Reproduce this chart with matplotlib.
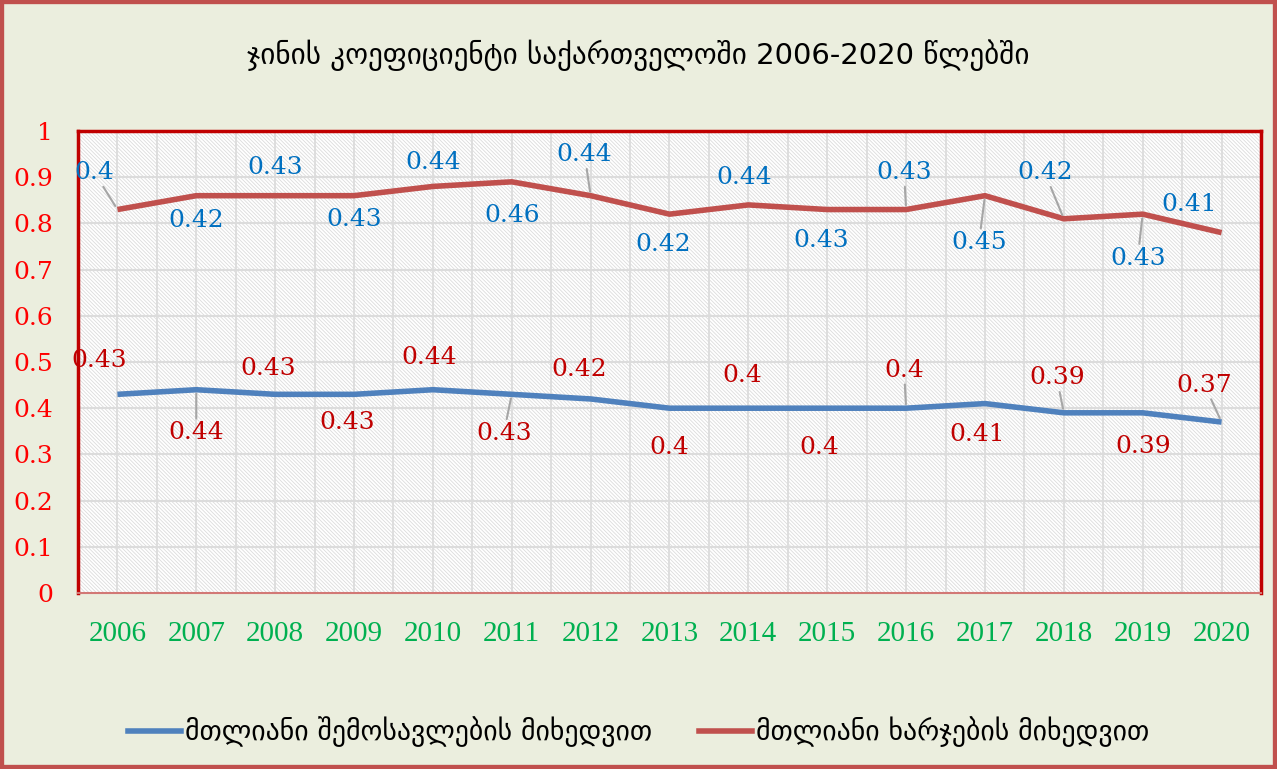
import matplotlib
matplotlib.use('Agg')
import matplotlib.pyplot as plt
from matplotlib.patches import Rectangle
from matplotlib.lines import Line2D
import numpy as np

# ─── Data ─────────────────────────────────────────────
years = ['2006', '2007', '2008', '2009', '2010', '2011', '2012', '2013',
         '2014', '2015', '2016', '2017', '2018', '2019', '2020']
income = [0.43, 0.44, 0.43, 0.43, 0.44, 0.43, 0.42, 0.40,
          0.40, 0.40, 0.40, 0.41, 0.39, 0.39, 0.37]
consumption = [0.40, 0.42, 0.43, 0.43, 0.44, 0.46, 0.44, 0.42,
               0.44, 0.43, 0.43, 0.45, 0.42, 0.43, 0.41]
y_ticks = [0, 0.1, 0.2, 0.3, 0.4, 0.5, 0.6, 0.7, 0.8, 0.9, 1]
y_ticklabels = ['0', '0.1', '0.2', '0.3', '0.4', '0.5', '0.6', '0.7',
                '0.8', '0.9', '1']

title = 'ჯინის კოეფიციენტი საქართველოში 2006-2020 წლებში'
name_income = 'მთლიანი შემოსავლების მიხედვით'
name_cons = 'მთლიანი ხარჯების მიხედვით'

# label offsets in pixels (dx, dy), as placed in the original chart
off_upper = [(-23, 37), (0, -25), (0, 28), (0, -24), (0, 24), (0, -34),
             (-6, 41), (-6, -30), (-4, 27), (-6, -31), (-2, 37), (-6, -47),
             (-19, 46), (-5, -44), (-32, 28)]
off_lower = [(-18, 34), (0, -43), (-7, 26), (-7, -28), (-4, 32), (-8, -39),
             (-11, 29), (0, -39), (-6, 33), (-8, -39), (-2, 38), (-8, -31),
             (-7, 35), (0, -34), (-17, 37)]
# which labels carry a leader line
lead_upper = [1, 0, 0, 0, 0, 0, 1, 0, 0, 0, 1, 1, 1, 1, 0]
lead_lower = [0, 1, 0, 0, 0, 1, 0, 0, 0, 0, 1, 0, 1, 0, 1]

BLUE = '#4F81BD'
RED = '#C0504D'
BG = '#EBEEDE'

x = np.arange(len(years))
upper = np.array(income) + np.array(consumption)

plt.rcParams['hatch.linewidth'] = 0.6

fig = plt.figure(figsize=(12.77, 7.69), dpi=100, facecolor=BG)
ax = fig.add_axes([78 / 1277, 1 - 593 / 769, (1261 - 78) / 1277, (593 - 131) / 769])
ax.set_facecolor('white')
ax.add_patch(Rectangle((0, 0), 1, 1, transform=ax.transAxes, facecolor='white',
                       edgecolor='#DCDCDC', hatch='\\' * 9, lw=0, zorder=0))

ax.set_xlim(-0.5, len(years) - 0.5)
ax.set_ylim(0, 1)

# grid
for yv in y_ticks[1:-1]:
    ax.axhline(yv, color='#DCDCDC', lw=1.5, zorder=1)
for xv in np.arange(-0.5, len(years), 0.5):
    ax.axvline(xv, color='#DCDCDC', lw=1.3, zorder=1)

ax.plot(x, income, color=BLUE, lw=4, solid_capstyle='butt', zorder=3)
ax.plot(x, upper, color=RED, lw=4, solid_capstyle='butt', zorder=3)

lbl_font = dict(family='DejaVu Serif', fontsize=18)
for i in range(len(years)):
    for yv, txt, (dx, dy), lead, col in [
            (upper[i], consumption[i], off_upper[i], lead_upper[i], '#0070C0'),
            (income[i], income[i], off_lower[i], lead_lower[i], '#C00000')]:
        arrow = None
        if lead:
            arrow = dict(arrowstyle='-', color='#A6A6A6', lw=1.5, shrinkA=0, shrinkB=3)
        ax.annotate(f'{txt:g}', xy=(x[i], yv), xytext=(dx, dy),
                    textcoords='offset pixels', ha='center', va='center',
                    color=col, arrowprops=arrow, zorder=4, **lbl_font)

ax.set_xticks(x)
ax.set_xticklabels(years, family='Liberation Serif', fontsize=21, color='#00B050')
ax.set_yticks(y_ticks)
ax.set_yticklabels(y_ticklabels, family='DejaVu Serif', fontsize=18, color='#FF0000')
ax.tick_params(axis='both', length=0)
ax.tick_params(axis='x', pad=20)
ax.tick_params(axis='y', pad=18)

for side in ['left', 'top', 'right']:
    ax.spines[side].set_color('#C00000')
    ax.spines[side].set_linewidth(2.5)
ax.spines['bottom'].set_color('#D27875')
ax.spines['bottom'].set_linewidth(1.5)

fig.text(0.5, 1 - 55 / 769, title, ha='center', va='center', fontsize=21,
         family='DejaVu Sans', color='black')

handles = [Line2D([], [], color=BLUE, lw=4), Line2D([], [], color=RED, lw=4)]
fig.legend(handles, [name_income, name_cons], loc='center',
           bbox_to_anchor=(0.5, 1 - 732 / 769), ncol=2, frameon=False,
           prop=dict(family='DejaVu Sans', size=20), handlelength=1.9,
           handletextpad=0.15, columnspacing=1.7)

fig.add_artist(Rectangle((0, 0), 1, 1, transform=fig.transFigure, fill=False,
                         edgecolor=RED, lw=6))

plt.savefig('out.png', dpi=100, facecolor=BG)
